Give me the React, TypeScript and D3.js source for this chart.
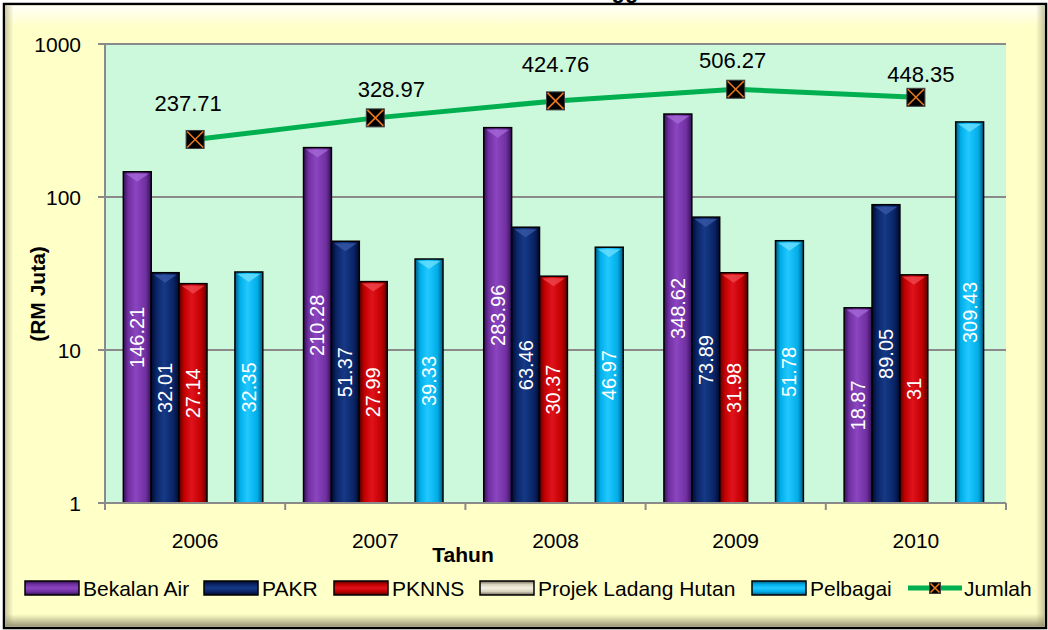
import React from 'react';
import * as d3 from 'd3';

// ---------- DATA ----------
const years = ['2006', '2007', '2008', '2009', '2010'];
const bekalanAir = [146.21, 210.28, 283.96, 348.62, 18.87];
const pakr = [32.01, 51.37, 63.46, 73.89, 89.05];
const pknns = [27.14, 27.99, 30.37, 31.98, 31];
const projekLadangHutan = [0, 0, 0, 0, 0];
const pelbagai = [32.35, 39.33, 46.97, 51.78, 309.43];
const jumlah = [237.71, 328.97, 424.76, 506.27, 448.35];
const yTicks = [1, 10, 100, 1000];
const seriesNames = ['Bekalan Air', 'PAKR', 'PKNNS', 'Projek Ladang Hutan', 'Pelbagai'];
const lineName = 'Jumlah';
const xTitle = 'Tahun';
const yTitle = '(RM Juta)';

// ---------- STYLE / LAYOUT ----------
const W = 1048;
const H = 630;
const FONT = '"Liberation Sans", Arial, sans-serif';
const plot = { left: 105, right: 1006, top: 44, bottom: 503 };
const palette = [
  { id: 'g0', dark: '#36105a', base: '#7030a0', light: '#8b45c0', tip: '#a66ad8' },
  { id: 'g1', dark: '#000a2e', base: '#0a2466', light: '#163a86', tip: '#3a5aa8' },
  { id: 'g2', dark: '#5a0000', base: '#c00000', light: '#e0121c', tip: '#f04a50' },
  { id: 'g3', dark: '#6a6456', base: '#d8d2bc', light: '#f4f0e2', tip: '#ffffff' },
  { id: 'g4', dark: '#005a80', base: '#00aee8', light: '#22c8ff', tip: '#70e0ff' },
];
const legendX = [25, 204, 334, 480, 752, 908];
const jumlahLabelNudge = [[-7, -28], [16, -21], [0, -29], [-3, -21], [5, -15]];

export default function App() {
  const series = [bekalanAir, pakr, pknns, projekLadangHutan, pelbagai];
  const x = d3.scaleBand<string>().domain(years).range([plot.left, plot.right]).paddingInner(0).paddingOuter(0);
  const xi = d3
    .scaleBand<string>()
    .domain(seriesNames)
    .range([0, x.bandwidth()])
    .paddingInner(0)
    .paddingOuter(0.73)
    .align(0.45);
  const y = d3.scaleLog().domain([1, 1000]).range([plot.bottom, plot.top]);
  const cx = (yr: string) => (x(yr) as number) + x.bandwidth() / 2;
  const linePath = d3
    .line<number>()
    .x((_, i) => cx(years[i]))
    .y((v) => y(v))(jumlah) as string;

  const bw = xi.bandwidth();

  const marker = (mx: number, my: number, s: number, key: string) => (
    <g key={key}>
      <rect x={mx - s / 2} y={my - s / 2} width={s} height={s} fill="#000" stroke="#404040" strokeWidth={1} />
      <line x1={mx - s / 2 + 1} y1={my - s / 2 + 1} x2={mx + s / 2 - 1} y2={my + s / 2 - 1} stroke="#e8781e" strokeWidth={1.6} />
      <line x1={mx + s / 2 - 1} y1={my - s / 2 + 1} x2={mx - s / 2 + 1} y2={my + s / 2 - 1} stroke="#e8781e" strokeWidth={1.6} />
    </g>
  );

  return (
    <svg width={W} height={H} style={{ position: 'absolute', left: 0, top: 0, display: 'block' }} fontFamily={FONT}>
      <defs>
        {palette.map((p) => (
          <linearGradient key={p.id} id={p.id} x1="0" x2="1" y1="0" y2="0">
            <stop offset="0%" stopColor={p.dark} />
            <stop offset="18%" stopColor={p.base} />
            <stop offset="45%" stopColor={p.light} />
            <stop offset="80%" stopColor={p.base} />
            <stop offset="100%" stopColor={p.dark} />
          </linearGradient>
        ))}
        {palette.map((p) => (
          <linearGradient key={p.id + 'v'} id={p.id + 'v'} x1="0" x2="0" y1="0" y2="1">
            <stop offset="0%" stopColor={p.dark} />
            <stop offset="25%" stopColor={p.base} />
            <stop offset="50%" stopColor={p.light} />
            <stop offset="75%" stopColor={p.base} />
            <stop offset="100%" stopColor={p.dark} />
          </linearGradient>
        ))}
        <linearGradient id="bevelTop" x1="0" x2="0" y1="0" y2="1">
          <stop offset="0%" stopColor="#ffffff" stopOpacity={0.85} />
          <stop offset="100%" stopColor="#ffffff" stopOpacity={0} />
        </linearGradient>
        <linearGradient id="bevelBottom" x1="0" x2="0" y1="0" y2="1">
          <stop offset="0%" stopColor="#9c9a78" stopOpacity={0} />
          <stop offset="100%" stopColor="#8e8c70" stopOpacity={0.9} />
        </linearGradient>
        <linearGradient id="bevelLeft" x1="0" x2="1" y1="0" y2="0">
          <stop offset="0%" stopColor="#b8b690" stopOpacity={0.7} />
          <stop offset="100%" stopColor="#b8b690" stopOpacity={0} />
        </linearGradient>
        <linearGradient id="bevelRight" x1="0" x2="1" y1="0" y2="0">
          <stop offset="0%" stopColor="#b8b690" stopOpacity={0} />
          <stop offset="100%" stopColor="#b8b690" stopOpacity={0.8} />
        </linearGradient>
      </defs>

      {/* clipped title fragment */}
      <text x={625} y={-2} textAnchor="middle" fontSize={22} fontWeight="bold" fill="#000">
        gg
      </text>

      {/* outer frame */}
      <rect x={4} y={4} width={1042} height={624} fill="#ffffc8" stroke="#000" strokeWidth={2.5} />
      <rect x={5.5} y={5.5} width={1039} height={22} fill="url(#bevelTop)" />
      <rect x={5.5} y={5.5} width={8} height={621} fill="url(#bevelLeft)" />
      <rect x={1036} y={5.5} width={8.5} height={621} fill="url(#bevelRight)" />
      <rect x={5.5} y={614} width={1039} height={12.5} fill="url(#bevelBottom)" />

      {/* plot area */}
      <rect x={plot.left} y={plot.top} width={plot.right - plot.left} height={plot.bottom - plot.top} fill="#ccf8dc" />
      {yTicks
        .filter((t) => t > 1)
        .map((t) => (
          <line key={'g' + t} x1={plot.left} x2={plot.right} y1={y(t)} y2={y(t)} stroke="#8a8a8a" strokeWidth={2} />
        ))}

      {/* bars */}
      {series.map((vals, si) =>
        vals.map((v, i) => {
          if (!(v > 0)) return null;
          const bx = (x(years[i]) as number) + (xi(seriesNames[si]) as number);
          const top = y(v);
          const h = plot.bottom - top;
          const p = palette[si];
          return (
            <g key={`b${si}-${i}`}>
              <rect x={bx} y={top} width={bw} height={h} fill={`url(#${p.id})`} stroke="#000" strokeWidth={1.5} />
              <polygon
                points={`${bx + 2.5},${top + 2} ${bx + bw - 2.5},${top + 2} ${bx + bw / 2},${top + 10}`}
                fill={p.tip}
                opacity={0.75}
              />
              <text
                transform={`translate(${bx + bw / 2},${(top + plot.bottom) / 2}) rotate(-90)`}
                textAnchor="middle"
                dominantBaseline="central"
                fontSize={20}
                fill="#fff"
              >
                {String(v)}
              </text>
            </g>
          );
        })
      )}

      {/* axes */}
      <line x1={plot.left} x2={plot.left} y1={plot.top} y2={plot.bottom} stroke="#8a8a8a" strokeWidth={2} />
      <line x1={plot.left - 7} x2={plot.right} y1={plot.bottom} y2={plot.bottom} stroke="#8a8a8a" strokeWidth={2} />
      {yTicks.map((t) => (
        <g key={'yt' + t}>
          <line x1={plot.left - 7} x2={plot.left} y1={y(t)} y2={y(t)} stroke="#8a8a8a" strokeWidth={2} />
          <text x={81} y={y(t)} textAnchor="end" dominantBaseline="central" fontSize={21} fill="#000">
            {String(t)}
          </text>
        </g>
      ))}
      {[...years.map((yr) => x(yr) as number), plot.right].map((tx, i) => (
        <line key={'xt' + i} x1={tx} x2={tx} y1={plot.bottom} y2={plot.bottom + 7} stroke="#8a8a8a" strokeWidth={2} />
      ))}
      {years.map((yr) => (
        <text key={'xl' + yr} x={cx(yr)} y={548} textAnchor="middle" fontSize={21} fill="#000">
          {yr}
        </text>
      ))}
      <text x={463} y={562} textAnchor="middle" fontSize={21} fontWeight="bold" fill="#000">
        {xTitle}
      </text>
      <text transform="translate(45,294) rotate(-90)" textAnchor="middle" fontSize={21} fontWeight="bold" fill="#000">
        {yTitle}
      </text>

      {/* total line */}
      <path d={linePath} fill="none" stroke="#00b050" strokeWidth={5} strokeLinejoin="round" />
      {jumlah.map((v, i) => marker(cx(years[i]), y(v), 18, 'm' + i))}
      {jumlah.map((v, i) => (
        <text
          key={'jl' + i}
          x={cx(years[i]) + jumlahLabelNudge[i][0]}
          y={y(v) + jumlahLabelNudge[i][1]}
          textAnchor="middle"
          fontSize={22}
          fill="#000"
        >
          {v.toFixed(2)}
        </text>
      ))}

      {/* legend */}
      {seriesNames.map((name, si) => (
        <g key={'lg' + si}>
          <rect x={legendX[si]} y={581} width={54} height={14} fill={`url(#${palette[si].id}v)`} stroke="#000" strokeWidth={1.5} />
          <text x={legendX[si] + 58} y={596} fontSize={21} fill="#000">
            {name}
          </text>
        </g>
      ))}
      <g>
        <line x1={legendX[5]} x2={legendX[5] + 54} y1={588} y2={588} stroke="#00b050" strokeWidth={5} />
        {marker(legendX[5] + 27, 588, 11, 'lgm')}
        <text x={legendX[5] + 56} y={596} fontSize={21} fill="#000">
          {lineName}
        </text>
      </g>
    </svg>
  );
}
